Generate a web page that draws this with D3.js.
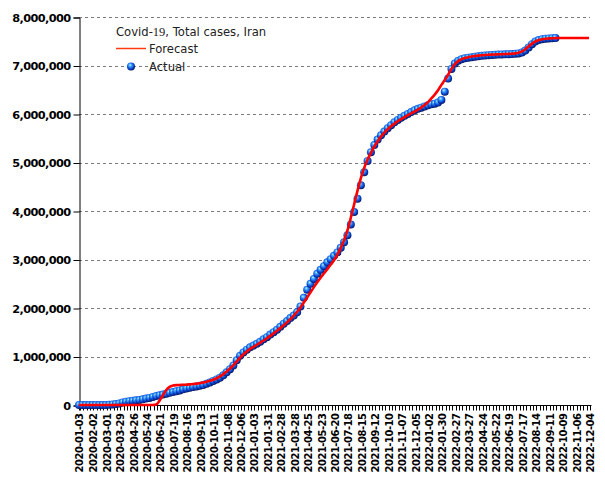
<!DOCTYPE html>
<html>
<head>
<meta charset="utf-8">
<script src="https://cdn.jsdelivr.net/npm/d3@7"></script>
<style>
  html, body { margin: 0; padding: 0; background: #fff; }
  svg { display: block; }
</style>
</head>
<body>
<svg id="chart" width="605" height="480"></svg>
<script>
// ---------- DATA ----------
const seriesStart = "2020-01-03";   // first weekly observation (step: 7 days)
const actual = [
  // 2020
  0,0,0,0,0,0,0,18,388,4747,11364,19644,32332,53183,68192,79494,88194,
  95646,104691,116635,131652,146668,167156,184955,200262,215096,
  232863,250458,267061,284034,301530,322567,340206,354764,369911,
  382772,397801,413149,436319,464596,496253,526490,562705,612772,
  673250,738322,815117,922397,1016835,1083023,1141555,1188357,
  // 2021
  1225142,1261826,1305339,1354520,1399376,1452687,1500800,1552000,1613000,
  1677000,1731000,1792000,1843000,1911000,2030000,2209000,2377000,2499000,
  2600000,2706000,2787000,2862000,2941000,3005000,3076000,3146000,
  3240000,3355000,3502000,3723000,3981000,4254000,4530000,4800000,5030000,
  5211000,5360000,5472000,5560000,5638000,5706000,5769000,5830000,5878000,
  5922000,5963000,6002000,6040000,6075000,6106000,6131000,6155000,6180000,
  // 2022
  6200000,6213000,6236000,6290000,6460000,6730000,6930000,7040000,
  7100000,7130000,7150000,7162000,7171000,7181000,7190000,7200000,7207000,
  7213000,7219000,7222000,7225000,7228000,7230000,7232000,7235000,
  7241000,7250000,7268000,7307000,7370000,7440000,7493000,7525000,7543000,
  7553000,7559000,7563000,7566000
];
const forecast = [
  // 2020
  0,0,0,0,0,0,0,0,0,0,0,0,0,0,0,0,0,0,0,0,0,0,
  0,10000,90000,200000,310000,375000,400000,410000,413000,416000,420000,
  425000,432000,440000,450000,462000,478000,498000,522000,552000,590000,
  636000,690000,752000,822000,898000,975000,1045000,1105000,1157000,
  // 2021
  1200000,1242000,1285000,1330000,1377000,1426000,1477000,1530000,1585000,
  1643000,1704000,1770000,1842000,1922000,2012000,2112000,2218000,2325000,
  2430000,2530000,2624000,2712000,2800000,2890000,2985000,3100000,
  3240000,3400000,3600000,3860000,4140000,4420000,4680000,4890000,5060000,
  5200000,5330000,5440000,5535000,5615000,5685000,5748000,5800000,5850000,
  5895000,5935000,5975000,6015000,6050000,6090000,6135000,6185000,6245000,
  // 2022
  6320000,6400000,6490000,6600000,6700000,6810000,6930000,7030000,
  7090000,7130000,7155000,7172000,7185000,7195000,7203000,7210000,7216000,
  7221000,7225000,7228000,7231000,7233000,7236000,7239000,7243000,
  7250000,7262000,7290000,7335000,7395000,7450000,7495000,7525000,7543000,
  7553000,7558000,7562000,7565000,
  7566000,7566000,7566000,7566000,7566000,7566000,7566000,7566000,7566000,7566000
];
const xDomain = ["2020-01-03", "2022-12-04"];
const xTickLabels = [
  "2020-01-03","2020-02-02","2020-03-01","2020-03-29","2020-04-26","2020-05-24",
  "2020-06-21","2020-07-19","2020-08-16","2020-09-13","2020-10-11","2020-11-08",
  "2020-12-06","2021-01-03","2021-01-31","2021-02-28","2021-03-28","2021-04-25",
  "2021-05-23","2021-06-20","2021-07-18","2021-08-15","2021-09-12","2021-10-10",
  "2021-11-07","2021-12-05","2022-01-02","2022-01-30","2022-02-27","2022-03-27",
  "2022-04-24","2022-05-22","2022-06-19","2022-07-17","2022-08-14","2022-09-11",
  "2022-10-09","2022-11-06","2022-12-04"
];
const yTicks = [0,1000000,2000000,3000000,4000000,5000000,6000000,7000000,8000000];
const legendTitle = ["Covid-", "19", ", Total cases, Iran"];
const seriesNames = ["Forecast", "Actual"];

// ---------- CHART ----------
(function draw() {
const svg = d3.select("#chart");
const parse = d3.utcParse("%Y-%m-%d");
const start = parse(seriesStart);
const dateAt = i => d3.utcDay.offset(start, 7 * i);

const mL = 79, mR = 590, mT = 17, mB = 405;
const x = d3.scaleUtc().domain(xDomain.map(parse)).range([mL, mR]);
const y = d3.scaleLinear().domain([0, 8000000]).range([mB, mT]);

const defs = svg.append("defs");
const grad = defs.append("radialGradient").attr("id", "ball")
  .attr("cx", "45%").attr("cy", "42%").attr("r", "62%")
  .attr("fx", "38%").attr("fy", "30%");
grad.append("stop").attr("offset", "0%").attr("stop-color", "#d0f8ff");
grad.append("stop").attr("offset", "22%").attr("stop-color", "#55b8ff");
grad.append("stop").attr("offset", "55%").attr("stop-color", "#1660e8");
grad.append("stop").attr("offset", "80%").attr("stop-color", "#0630a8");
grad.append("stop").attr("offset", "100%").attr("stop-color", "#000840");

// grid
svg.append("g").selectAll("line").data(yTicks.filter(d => d > 0)).join("line")
  .attr("x1", mL).attr("x2", mR)
  .attr("y1", d => Math.round(y(d)) + 0.5).attr("y2", d => Math.round(y(d)) + 0.5)
  .attr("stroke", "#7a7a7a").attr("stroke-width", 1)
  .attr("stroke-dasharray", "3,3");

// y axis
const yAxis = d3.axisLeft(y).tickValues(yTicks).tickSize(6).tickPadding(3)
  .tickFormat(d3.format(","));
const gy = svg.append("g").attr("transform", `translate(${mL + 0.5},0.5)`).call(yAxis);
gy.select(".domain").attr("stroke", "#000");
gy.selectAll(".tick line").attr("stroke", "#000");
gy.selectAll("text").attr("font-family", "DejaVu Sans").attr("font-size", "11.3px")
  .attr("fill", "#000").attr("font-weight", "bold").style("letter-spacing", "-0.6px");

// x axis: minor weekly ticks
const weekTicks = [parse(xDomain[0])].concat(
  d3.utcSunday.range(d3.utcDay.offset(parse(xDomain[0]), 1), d3.utcDay.offset(parse(xDomain[1]), 1)));
const gx = svg.append("g").attr("transform", `translate(0.5,${mB + 0.5})`);
gx.append("line").attr("x1", mL).attr("x2", mR + 1).attr("y1", 0).attr("y2", 0).attr("stroke", "#000");
gx.selectAll("line.minor").data(weekTicks).join("line").attr("class", "minor")
  .attr("x1", d => Math.round(x(d))).attr("x2", d => Math.round(x(d)))
  .attr("y1", 0).attr("y2", 5).attr("stroke", "#000");
gx.selectAll("text").data(xTickLabels).join("text")
  .attr("transform", d => `translate(${Math.round(x(parse(d)))},8) rotate(-90)`)
  .attr("text-anchor", "end").attr("dy", "0.36em")
  .attr("font-family", "DejaVu Sans").attr("font-size", "10px").attr("fill", "#000")
  .attr("font-weight", "bold").style("letter-spacing", "-0.5px")
  .text(d => d);

// actual points
const actualData = actual.map((v, i) => ({ date: dateAt(i), value: v }));
svg.append("g").selectAll("circle").data(actualData).join("circle")
  .attr("cx", d => x(d.date)).attr("cy", d => y(d.value)).attr("r", 4)
  .attr("fill", "url(#ball)");

// forecast line
const forecastData = forecast.map((v, i) => ({ date: dateAt(i), value: v }));
svg.append("path").datum(forecastData)
  .attr("fill", "none").attr("stroke", "#ff0000").attr("stroke-width", 2.6)
  .attr("stroke-linejoin", "round")
  .attr("d", d3.line().x(d => x(d.date)).y(d => y(d.value)).curve(d3.curveMonotoneX));

// legend
const lg = svg.append("g").attr("font-family", "DejaVu Sans").attr("font-size", "11.6px").attr("fill", "#222");
const t = lg.append("text").attr("x", 116).attr("y", 36);
t.append("tspan").text(legendTitle[0]);
t.append("tspan").attr("font-family", "Liberation Serif").attr("font-size", "12.5px").text(legendTitle[1]);
t.append("tspan").text(legendTitle[2]);
lg.append("line").attr("x1", 116).attr("x2", 146).attr("y1", 48.5).attr("y2", 48.5)
  .attr("stroke", "#ff3a10").attr("stroke-width", 1.5);
lg.append("text").attr("x", 149).attr("y", 52.5).text(seriesNames[0]);
lg.append("circle").attr("cx", 131).attr("cy", 66.5).attr("r", 4).attr("fill", "url(#ball)");
lg.append("text").attr("x", 149).attr("y", 71).text(seriesNames[1]);
})();
</script>
</body>
</html>
